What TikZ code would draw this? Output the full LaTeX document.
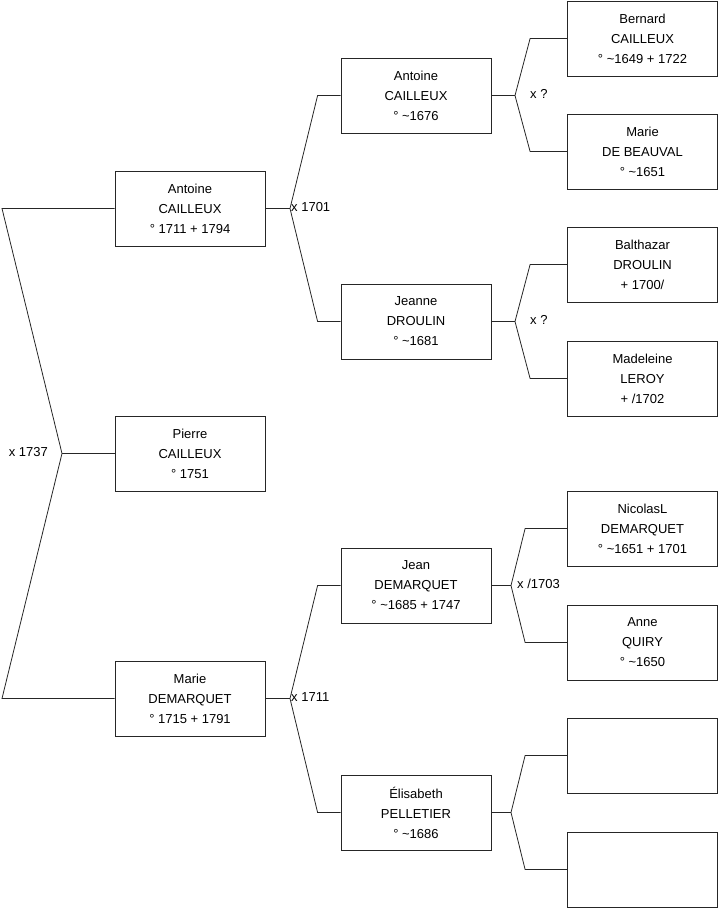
\documentclass[tikz,border=0pt]{standalone}
\usepackage{fontspec}
\setmainfont{Liberation Sans}
\usetikzlibrary{positioning, calc}

\begin{document}
\begin{tikzpicture}[x=1pt, y=-1pt,
  person/.style={draw=black!85, line width=0.8pt, rectangle, minimum width=150pt, minimum height=75pt, inner sep=0pt, align=center, font=\fontsize{13}{20}\selectfont},
  link/.style={draw=black!85, line width=0.8pt},
  union/.style={inner sep=1pt, font=\fontsize{13}{16}\selectfont}]
\useasboundingbox (0,0) rectangle (719,908);

% Generation 1
\node[person] (p) at (190, 453.5) {Pierre\\CAILLEUX\\° 1751};

% Generation 2
\node[person] (f) at (190, 208.5) {Antoine\\CAILLEUX\\° 1711 + 1794};
\node[person] (m) at (190, 698.5) {Marie\\DEMARQUET\\° 1715 + 1791};

% Generation 3
\node[person] (ff) at (416, 95.5) {Antoine\\CAILLEUX\\° \textasciitilde 1676};
\node[person] (fm) at (416, 321.5) {Jeanne\\DROULIN\\° \textasciitilde 1681};
\node[person] (mf) at (416, 585.5) {Jean\\DEMARQUET\\° \textasciitilde 1685 + 1747};
\node[person] (mm) at (416, 812.5) {Élisabeth\\PELLETIER\\° \textasciitilde 1686};

% Generation 4
\node[person] (fff) at (642.5, 38.5) {Bernard\\CAILLEUX\\° \textasciitilde 1649 + 1722};
\node[person] (ffm) at (642.5, 151.5) {Marie\\DE BEAUVAL\\° \textasciitilde 1651};
\node[person] (fmf) at (642.5, 264.5) {Balthazar\\DROULIN\\+ 1700/};
\node[person] (fmm) at (642.5, 378.5) {Madeleine\\LEROY\\+ /1702};
\node[person] (mff) at (642.5, 528.5) {NicolasL\\DEMARQUET\\° \textasciitilde 1651 + 1701};
\node[person] (mfm) at (642.5, 642.5) {Anne\\QUIRY\\° \textasciitilde 1650};
\node[person] (mmf) at (642.5, 755.5) {};
\node[person] (mmm) at (642.5, 869.5) {};

% Forks
\coordinate (jp) at (62, 453.5);
\coordinate (jpf) at (2, 208.5);
\coordinate (jpm) at (2, 698.5);
\coordinate (jf) at (290, 208.5);
\coordinate (jm) at (290, 698.5);
\coordinate (jff) at (515, 95.5);
\coordinate (jfm) at (515, 321.5);
\coordinate (jmf) at (511, 585.5);
\coordinate (jmm) at (511, 812.5);

\draw[link] (p.west) -- (jp);
\draw[link] (f.west) -- (jpf) -- (jp) -- (jpm) -- (m.west);

\draw[link] (f.east) -- (jf);
\draw[link] (ff.west) -- ++(-23,0) -- (jf) -- ($(fm.west)+(-23,0)$) -- (fm.west);
\draw[link] (m.east) -- (jm);
\draw[link] (mf.west) -- ++(-23,0) -- (jm) -- ($(mm.west)+(-23,0)$) -- (mm.west);

\draw[link] (ff.east) -- (jff);
\draw[link] (fff.west) -- ++(-37,0) -- (jff) -- ($(ffm.west)+(-37,0)$) -- (ffm.west);
\draw[link] (fm.east) -- (jfm);
\draw[link] (fmf.west) -- ++(-37,0) -- (jfm) -- ($(fmm.west)+(-37,0)$) -- (fmm.west);
\draw[link] (mf.east) -- (jmf);
\draw[link] (mff.west) -- ++(-42,0) -- (jmf) -- ($(mfm.west)+(-42,0)$) -- (mfm.west);
\draw[link] (mm.east) -- (jmm);
\draw[link] (mmf.west) -- ++(-42,0) -- (jmm) -- ($(mmm.west)+(-42,0)$) -- (mmm.west);

% Marriages
\node[union, anchor=east] (up) at (49, 452) {x 1737};
\node[union, anchor=west] (uf) at (290, 207) {x 1701};
\node[union, anchor=west] (um) at (290, 697) {x 1711};
\node[union, anchor=west] (uff) at (529, 94) {x ?};
\node[union, anchor=west] (ufm) at (529, 320) {x ?};
\node[union, anchor=west] (umf) at (516, 584) {x /1703};
\end{tikzpicture}
\end{document}
